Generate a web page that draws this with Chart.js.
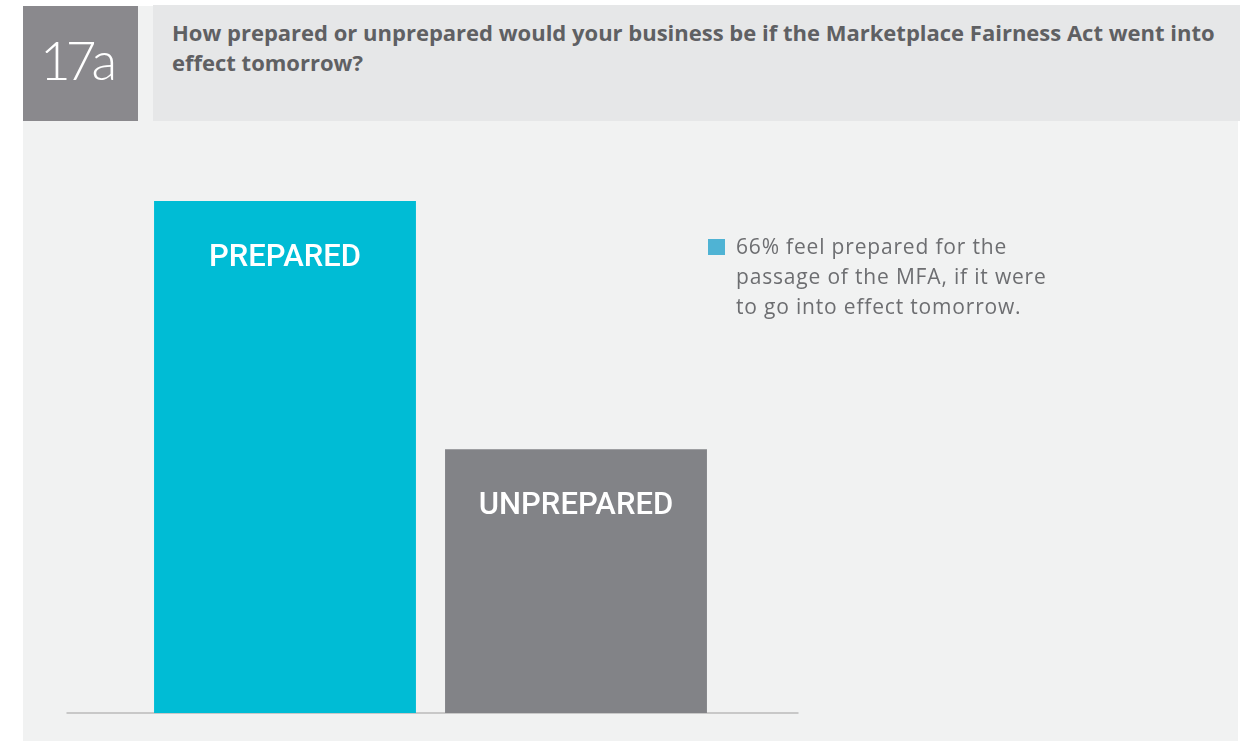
<!DOCTYPE html>
<html>
<head>
<meta charset="utf-8">
<script src="https://cdn.jsdelivr.net/npm/chart.js@4"></script>
<style>
    body { margin: 0; background: #ffffff; width: 1245px; height: 741px; position: relative; overflow: hidden; }
    .panel { position: absolute; left: 23px; top: 6px; width: 1215px; height: 735px; background: #f1f2f2; }
    .num-box { position: absolute; left: 23px; top: 6px; width: 115px; height: 115px; background: #8a898d; }
    .num-box span { position: absolute; left: 17px; top: 27px; font-family: "Lato", sans-serif; font-weight: 300; font-size: 53px; line-height: 53px; color: #ffffff; letter-spacing: -5px; }
    .title-box { position: absolute; left: 153px; top: 5px; width: 1087px; height: 116px; background: #e6e7e8; }
    .title-box p { position: absolute; left: 19px; top: 12px; margin: 0; white-space: nowrap; font-family: "Open Sans", sans-serif; font-weight: 700; font-size: 22px; line-height: 30px; color: #5f6063; }
    #chartWrap { position: absolute; left: 23px; top: 121px; width: 1215px; height: 620px; }
    .note { position: absolute; left: 708px; top: 234px; width: 360px; }
    .note i { position: absolute; left: 0; top: 5px; width: 17px; height: 16px; background: #4fb3d4; }
    .note p { margin: -3px 0 0 28px; white-space: nowrap; font-family: "Open Sans", sans-serif; font-size: 21px; line-height: 30px; color: #6d6e71; }
</style>
</head>
<body>
<div class="panel"></div>
<div class="num-box"><span>17a</span></div>
<div class="title-box"><p id="titleText"></p></div>
<div id="chartWrap"><canvas id="mfaChart" width="1215" height="620"></canvas></div>
<div class="note"><i></i><p id="noteText"></p></div>

<script>
// Datos de la encuesta (porcentaje de negocios)
const categories = ["PREPARED", "UNPREPARED"];
const shares = [66, 34];
const barColors = ["#00bcd5", "#828387"];
const yMax = 70;

const titleLines = [
    "How prepared or unprepared would your business be if the Marketplace Fairness Act went into",
    "effect tomorrow?",
];
const noteLines = [
    shares[0] + "% feel prepared for the",
    "passage of the MFA, if it were",
    "to go into effect tomorrow.",
];

// Ajusta el espaciado de letras para que la primera línea ocupe el ancho deseado
function fillLines(el, lines, targetWidth) {
    lines.forEach((line, i) => {
        if (i > 0) el.appendChild(document.createElement("br"));
        el.appendChild(document.createTextNode(line));
    });
    const style = getComputedStyle(el);
    const c = document.createElement("canvas").getContext("2d");
    c.font = style.fontWeight + " " + style.fontSize + " " + style.fontFamily;
    const w = c.measureText(lines[0]).width;
    el.style.letterSpacing = ((targetWidth - w) / lines[0].length).toFixed(2) + "px";
}

fillLines(document.getElementById("titleText"), titleLines, 1043);
fillLines(document.getElementById("noteText"), noteLines, 271);

// Línea base gris que sobresale del área de las barras
const baselinePlugin = {
    id: "baseline",
    beforeDatasetsDraw(chart) {
        const { ctx, chartArea, scales } = chart;
        const y = scales.y.getPixelForValue(0);
        ctx.save();
        ctx.strokeStyle = "#c8c8c8";
        ctx.lineWidth = 2;
        ctx.beginPath();
        ctx.moveTo(chartArea.left - 73, y);
        ctx.lineTo(chartArea.right + 77, y);
        ctx.stroke();
        ctx.restore();
    },
};

// Nombre de la categoría dentro de cada barra
const barLabelPlugin = {
    id: "barLabels",
    afterDatasetsDraw(chart) {
        const { ctx } = chart;
        const meta = chart.getDatasetMeta(0);
        ctx.save();
        ctx.fillStyle = "#ffffff";
        ctx.font = "500 31px Roboto, sans-serif";
        ctx.textAlign = "center";
        ctx.textBaseline = "middle";
        meta.data.forEach((bar, i) => {
            ctx.fillText(categories[i], bar.x, bar.y + 57);
        });
        ctx.restore();
    },
};

new Chart(document.getElementById("mfaChart"), {
    type: "bar",
    data: {
        labels: categories,
        datasets: [
            {
                data: shares,
                backgroundColor: barColors,
                borderWidth: 0,
                categoryPercentage: 0.9,
                barPercentage: 1,
            },
        ],
    },
    options: {
        responsive: false,
        animation: false,
        layout: { padding: { left: 116.5, right: 516.5, top: 49, bottom: 28 } },
        scales: {
            x: { display: false },
            y: { display: false, min: 0, max: yMax },
        },
        plugins: {
            legend: { display: false },
            tooltip: { enabled: false },
        },
    },
    plugins: [baselinePlugin, barLabelPlugin],
});
</script>
</body>
</html>
